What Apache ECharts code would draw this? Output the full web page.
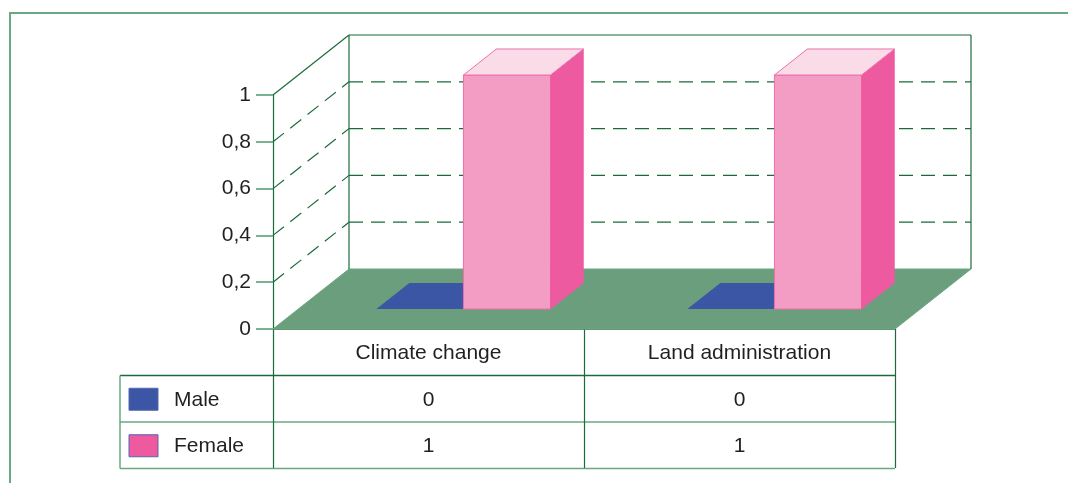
<!DOCTYPE html>
<html>
<head>
<meta charset="utf-8">
<script src="https://cdn.jsdelivr.net/npm/echarts@6/dist/echarts.min.js"></script>
<style>
  html, body { margin: 0; padding: 0; background: #fff; }
  #chart { width: 1068px; height: 483px; }
</style>
</head>
<body>
<div id="chart"></div>
<script>
const categories = ["Climate change", "Land administration"];
const seriesNames = ["Male", "Female"];
const maleValues = [0, 0];
const femaleValues = [1, 1];
const yTicks = [0, 0.2, 0.4, 0.6, 0.8, 1];

const DARK = "#1b6b3a";
const LIGHT = "#6aa884";
const TEXT = "#231f20";
const FONT = "Liberation Sans";
const FS = 21;
const DEPTH = [76, -60];       // back wall offset in px
const Z_NEAR = 0.333, Z_FAR = 0.767;
const BAR_START = -0.249, BAR_W = 0.28;

const colors = [
  { front: "#3a56a5", side: "#2d4585", top: "#3a56a5", stroke: "#3a56a5" },
  { front: "#f39dc4", side: "#ee5a9f", top: "#fadbe8", stroke: "#ee6fa8" },
];

const chart = echarts.init(document.getElementById("chart"));

function frameItem(params, api) {
  const cs = params.coordSys;
  const x0 = cs.x, x1 = cs.x + cs.width;
  const y0 = api.coord([0, 0])[1];
  const dx = DEPTH[0], dy = DEPTH[1];
  const children = [];
  // floor
  children.push({
    type: "polygon",
    shape: { points: [[x0, y0], [x0 + dx, y0 + dy], [x1 + dx, y0 + dy], [x1, y0]] },
    style: { fill: "#6b9e7c", stroke: LIGHT, lineWidth: 1 },
  });
  const line = (a, b, dash, color) => ({
    type: "line",
    shape: { x1: a[0], y1: a[1], x2: b[0], y2: b[1] },
    style: { stroke: color || DARK, lineWidth: 1.2, lineDash: dash ? [14, 8] : null },
  });
  const yTop = api.coord([0, yTicks[yTicks.length - 1]])[1];
  // walls
  children.push(line([x0 + dx, yTop + dy], [x0 + dx, y0 + dy]));
  children.push(line([x1 + dx, yTop + dy], [x1 + dx, y0 + dy]));
  children.push(line([x0 + dx, yTop + dy], [x1 + dx, yTop + dy]));
  children.push(line([x0, yTop], [x0 + dx, yTop + dy]));
  // grid lines
  yTicks.slice(1, -1).forEach((v) => {
    const y = api.coord([0, v])[1];
    children.push(line([x0, y], [x0 + dx, y + dy], true));
    children.push(line([x0 + dx, y + dy], [x1 + dx, y + dy], true));
  });
  return { type: "group", children };
}

function barItem(s) {
  return function (params, api) {
    const cat = api.value(0), v = api.value(1);
    const base = api.coord([cat, 0]);
    const top = api.coord([cat, v]);
    const bw = api.size([1, 0])[0];
    const w = bw * BAR_W;
    const xl = base[0] + bw * BAR_START + s * w;
    const n = [DEPTH[0] * Z_NEAR, DEPTH[1] * Z_NEAR];
    const f = [DEPTH[0] * Z_FAR, DEPTH[1] * Z_FAR];
    const yb = base[1], yt = top[1];
    const c = colors[s];
    const children = [];
    if (yb - yt > 0.5) {
      children.push({
        type: "polygon",
        shape: { points: [[xl + n[0], yb + n[1]], [xl + w + n[0], yb + n[1]], [xl + w + n[0], yt + n[1]], [xl + n[0], yt + n[1]]] },
        style: { fill: c.front, stroke: c.stroke, lineWidth: 1 },
      });
      children.push({
        type: "polygon",
        shape: { points: [[xl + w + n[0], yb + n[1]], [xl + w + f[0], yb + f[1]], [xl + w + f[0], yt + f[1]], [xl + w + n[0], yt + n[1]]] },
        style: { fill: c.side, stroke: c.side, lineWidth: 0.5 },
      });
    }
    children.push({
      type: "polygon",
      shape: { points: [[xl + n[0], yt + n[1]], [xl + w + n[0], yt + n[1]], [xl + w + f[0], yt + f[1]], [xl + f[0], yt + f[1]]] },
      style: { fill: c.top, stroke: c.stroke, lineWidth: yb - yt > 0.5 ? 1 : 0 },
    });
    return { type: "group", children };
  };
}

const seriesValues = [maleValues, femaleValues];

chart.setOption({
  animation: false,
  grid: { left: 273, right: 173, top: 95, bottom: 154 },
  xAxis: {
    type: "category",
    data: categories,
    axisLine: { lineStyle: { color: DARK, width: 1.5 } },
    axisTick: { show: true, length: 139, lineStyle: { color: DARK, width: 1.2 } },
    axisLabel: { color: TEXT, fontFamily: FONT, fontSize: FS, margin: 14 },
  },
  yAxis: {
    type: "value",
    min: 0,
    max: 1,
    interval: 0.2,
    splitLine: { show: false },
    axisLine: { show: true, lineStyle: { color: DARK, width: 1.2 } },
    axisTick: { show: true, length: 17, lineStyle: { color: "#7ab394", width: 2 } },
    axisLabel: {
      color: TEXT, fontFamily: FONT, fontSize: FS, margin: 22,
      formatter: (v) => String(Math.round(v * 10) / 10).replace(".", ","),
    },
  },
  series: [
    { type: "custom", name: "frame", renderItem: frameItem, data: [[0, 0]], z: 1, silent: true },
  ].concat(seriesNames.map((name, s) => ({
    type: "custom",
    name,
    renderItem: barItem(s),
    data: seriesValues[s].map((v, i) => [i, v]),
    z: 2 + s,
  }))),
});

// table below the chart
const gridBottom = chart.convertToPixel({ yAxisIndex: 0 }, 0);
const xRight = 895, tableLeft = 120;
const rowH = 46.5;
const graphic = [];
const hLine = (y, color) => ({
  type: "line", shape: { x1: tableLeft, y1: y, x2: xRight, y2: y },
  style: { stroke: color, lineWidth: 1.5 },
});
const r1 = gridBottom + rowH, r2 = r1 + rowH, r3 = r2 + rowH;
graphic.push(hLine(r1, DARK), hLine(r2, LIGHT), hLine(r3, LIGHT));
graphic.push({
  type: "line", shape: { x1: tableLeft, y1: r1, x2: tableLeft, y2: r3 },
  style: { stroke: LIGHT, lineWidth: 1.5 },
});
seriesNames.forEach((name, s) => {
  const yc = r1 + rowH * (s + 0.5) + 1;
  graphic.push({
    type: "rect", shape: { x: 129, y: yc - 11.5, width: 29, height: 22 },
    style: { fill: s === 0 ? colors[0].front : "#ee5a9f", stroke: "#5566b0", lineWidth: 1 },
  });
  graphic.push({
    type: "text", x: 174, y: yc,
    style: { text: name, fill: TEXT, font: `${FS}px "${FONT}"`, textVerticalAlign: "middle" },
  });
  seriesValues[s].forEach((v, i) => {
    const xc = chart.convertToPixel({ xAxisIndex: 0 }, i);
    graphic.push({
      type: "text", x: xc, y: yc,
      style: { text: String(v), fill: TEXT, font: `${FS}px "${FONT}"`, textAlign: "center", textVerticalAlign: "middle" },
    });
  });
});
// outer frame
graphic.push({
  type: "polyline", shape: { points: [[10, 483], [10, 13], [1068, 13]] },
  style: { stroke: LIGHT, lineWidth: 2, fill: null },
});

chart.setOption({ graphic });
</script>
</body>
</html>
